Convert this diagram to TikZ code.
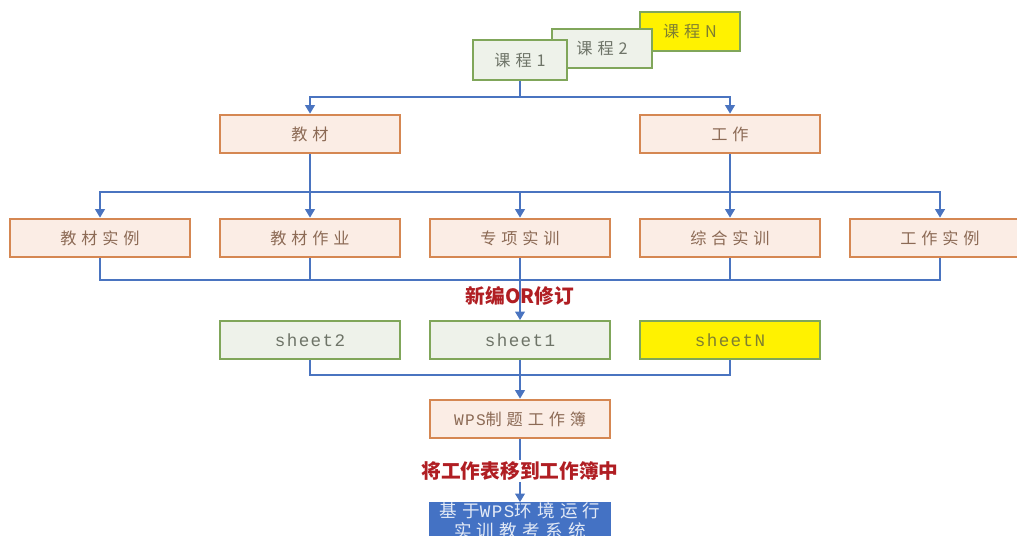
\documentclass[tikz,border=0pt]{standalone}
\usepackage{fontspec}
\setmainfont{Noto Sans CJK SC}
\newfontfamily\hz[LetterSpace=30]{Noto Sans CJK SC}
\newfontfamily\en[LetterSpace=8]{Liberation Mono}
\usetikzlibrary{arrows.meta}
\definecolor{lnblue}{HTML}{4A74C0}
\definecolor{orfill}{HTML}{FBEDE5}
\definecolor{ordraw}{HTML}{D58752}
\definecolor{ortext}{HTML}{8C6A55}
\definecolor{grfill}{HTML}{EEF2EA}
\definecolor{grdraw}{HTML}{80A65A}
\definecolor{grtext}{HTML}{6E7468}
\definecolor{yeltext}{HTML}{7F7F30}
\definecolor{tagred}{HTML}{B01E23}
\definecolor{wpsblue}{HTML}{4472C4}
\tikzset{
  orbox/.style={draw=ordraw, fill=orfill, line width=1.4pt, minimum width=4.5cm, minimum height=0.97cm, inner sep=0pt, text=ortext, font=\hz\fontsize{11.5}{14}\selectfont},
  grbox/.style={draw=grdraw, fill=grfill, line width=1.4pt, minimum width=4.5cm, minimum height=0.95cm, inner sep=0pt, text=grtext, font=\en\fontsize{12.5}{15}\selectfont},
  kcbox/.style={grbox, minimum width=2.5cm, minimum height=0.98cm, font=\hz\fontsize{11.5}{14}\selectfont},
  ybox/.style={fill=yellow, text=yeltext},
  link/.style={draw=lnblue, line width=0.9pt},
  arr/.style={link, -{Triangle[length=6pt,width=7pt]}},
  tag/.style={text=tagred, font=\bfseries\fontsize{14}{16}\selectfont, inner sep=1pt},
}
\begin{document}
\begin{tikzpicture}[x=0.025cm, y=-0.025cm]
    \useasboundingbox (0,0) rectangle (1017,536);
    \clip (0,0) rectangle (1017,536);

    \node[kcbox, ybox] (kN) at (690,31.5) {课程N};
    \node[kcbox] (k2) at (602,48.5) {课程2};
    \node[kcbox, minimum width=2.33cm, minimum height=1cm] (k1) at (520,60) {课程1};

    \node[orbox] (jc) at (310,134) {教材};
    \node[orbox] (gz) at (730,134) {工作};

    \node[orbox] (r1) at (100,238) {教材实例};
    \node[orbox] (r2) at (310,238) {教材作业};
    \node[orbox] (r3) at (520,238) {专项实训};
    \node[orbox] (r4) at (730,238) {综合实训};
    \node[orbox] (r5) at (940,238) {工作实例};

    \node[grbox] (s2) at (310,340) {sheet2};
    \node[grbox] (s1) at (520,340) {sheet1};
    \node[grbox, ybox] (sN) at (730,340) {sheetN};

    \node[orbox] (wps) at (520,419) {{\en WPS}制题工作簿};
    \node[orbox, fill=wpsblue, draw=wpsblue, text=white!85!wpsblue, anchor=north, minimum height=0pt, align=center, inner xsep=2pt, inner ysep=0pt, font=\hz\fontsize{12.5}{14}\selectfont] (jx) at (520,502) {基于{\en WPS}环境运行\\实训教考系统};

    \coordinate (f1) at (520,97);
    \coordinate (f2) at (310,192);
    \coordinate (g2) at (730,192);
    \coordinate (f3) at (520,280);
    \coordinate (f4) at (520,375);

    \draw[link] (k1) -- (f1);
    \draw[arr] (f1) -| (jc);
    \draw[arr] (f1) -| (gz);

    \draw[link] (jc) -- (f2);
    \draw[link] (gz) -- (g2);
    \foreach \n in {r1,r2,r3,r4,r5}
        \draw[arr] (f2) -| (\n);

    \foreach \n in {r1,r2,r4,r5}
        \draw[link] (\n) |- (f3);
    \draw[link] (r3) -- (f3);
    \draw[arr] (f3) -- node[tag, pos=0.4] {新编OR修订} (s1);

    \draw[link] (s2) |- (f4);
    \draw[link] (sN) |- (f4);
    \draw[link] (s1) -- (f4);
    \draw[arr] (f4) -- (wps);
    \draw[arr] (wps) -- node[tag, fill=white] {将工作表移到工作簿中} (jx);
\end{tikzpicture}
\end{document}
